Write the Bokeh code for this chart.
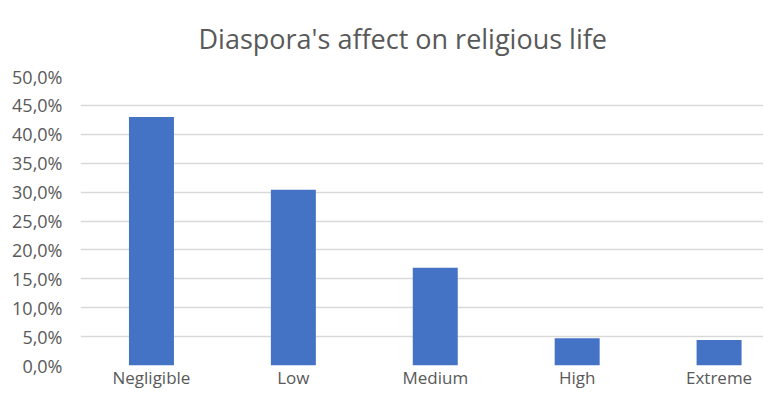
from bokeh.plotting import figure
from bokeh.models import FixedTicker
from bokeh.embed import file_html
from bokeh.resources import INLINE

title_text = "Diaspora's affect on religious life"
categories = ["Negligible", "Low", "Medium", "High", "Extreme"]
values = [43.0, 30.4, 16.9, 4.7, 4.4]  # percent
y_ticks = [0, 5, 10, 15, 20, 25, 30, 35, 40, 45, 50]
y_tick_labels = ["0,0%", "5,0%", "10,0%", "15,0%", "20,0%", "25,0%", "30,0%", "35,0%", "40,0%", "45,0%", "50,0%"]

FONT = "Open Sans"
GREY = "#595959"

x = list(range(len(categories)))

p = figure(width=763, height=391, output_backend="svg", toolbar_location=None,
           x_range=(-0.5, 4.313), y_range=(0, 50),
           min_border_left=80, min_border_right=0, min_border_top=76, min_border_bottom=10)

p.vbar(x=x, top=values, width=0.317, color="#4472C4", line_color=None)

p.title.text = title_text
p.title.align = "left"
p.title.offset = 118
p.title.standoff = 35
p.title.vertical_align = "top"
p.title.text_font = FONT
p.title.text_font_size = "27px"
p.title.text_font_style = "normal"
p.title.text_color = GREY

p.outline_line_color = None
p.xgrid.grid_line_color = None
p.ygrid.grid_line_color = "#d9d9d9"
p.ygrid.grid_line_width = 1.5

p.yaxis.ticker = FixedTicker(ticks=y_ticks)
p.yaxis.major_label_overrides = {t: l for t, l in zip(y_ticks, y_tick_labels)}
p.xaxis.ticker = FixedTicker(ticks=x)
p.xaxis.major_label_overrides = {i: c for i, c in zip(x, categories)}

for ax in (p.xaxis[0], p.yaxis[0]):
    ax.axis_line_color = None
    ax.major_tick_line_color = None
    ax.minor_tick_line_color = None
    ax.major_tick_out = 0
    ax.major_tick_in = 0
    ax.minor_tick_out = 0
    ax.major_label_text_font = FONT
    ax.major_label_text_color = GREY

p.xaxis.major_label_text_font_size = "17px"
p.yaxis.major_label_text_font_size = "18px"
p.yaxis.major_label_standoff = 18
p.xaxis.major_label_standoff = 0

open("out.html", "w").write(file_html(p, INLINE))
